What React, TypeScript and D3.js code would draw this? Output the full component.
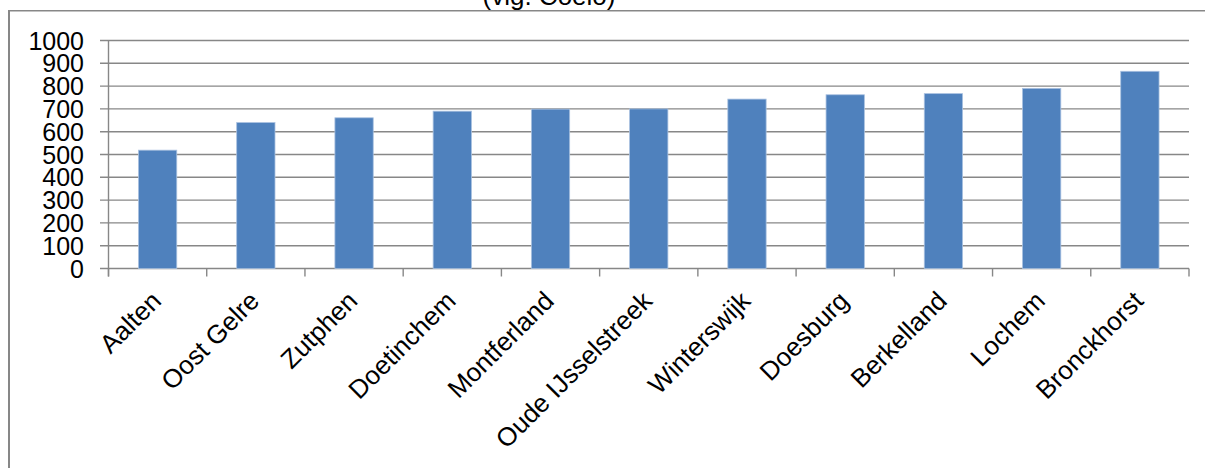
import React from "react";
import * as d3 from "d3";

const categories = [
  "Aalten",
  "Oost Gelre",
  "Zutphen",
  "Doetinchem",
  "Montferland",
  "Oude IJsselstreek",
  "Winterswijk",
  "Doesburg",
  "Berkelland",
  "Lochem",
  "Bronckhorst",
];
const values = [519, 640, 661, 690, 699, 700, 743, 762, 767, 790, 865];
const yTicks = [0, 100, 200, 300, 400, 500, 600, 700, 800, 900, 1000];
const title = "(vlg. Coelo)";

const W = 1205;
const H = 468;
const FONT = "'Liberation Sans', Arial, sans-serif";
const GRID = "#878787";

export default function App() {
  const left = 108.5;
  const right = 1189;
  const y = d3.scaleLinear().domain([0, 1000]).range([268.5, 40.5]);
  const x = d3
    .scaleBand<string>()
    .domain(categories)
    .range([left, right])
    .paddingInner(0.61)
    .paddingOuter(0.305);
  const step = x.step();
  const y0 = y(0);

  return (
    <svg
      width={W}
      height={H}
      style={{ position: "absolute", left: 0, top: 0, background: "#fff" }}
      fontFamily={FONT}
    >
      <rect x={0} y={0} width={W} height={H} fill="#fff" />
      {/* outer frame */}
      <line x1={9} x2={W + 2} y1={10.8} y2={10.8} stroke={GRID} strokeWidth={1.4} />
      <line x1={9} x2={9} y1={10} y2={H + 2} stroke={GRID} strokeWidth={2} />
      <text x={549} y={5} fontSize={26} textAnchor="middle" fill="#000">
        {title}
      </text>

      {/* gridlines */}
      {yTicks.map((t) => (
        <line
          key={t}
          x1={100}
          x2={right}
          y1={y(t)}
          y2={y(t)}
          stroke={GRID}
          strokeWidth={1.4}
        />
      ))}
      {/* y axis */}
      <line x1={left} x2={left} y1={y(1000)} y2={y0 + 8} stroke={GRID} strokeWidth={1.4} />
      {/* x ticks */}
      {categories.map((c, i) => (
        <line
          key={"t" + c}
          x1={left + i * step}
          x2={left + i * step}
          y1={y0}
          y2={y0 + 8}
          stroke={GRID}
          strokeWidth={1.4}
        />
      ))}
      <line x1={right} x2={right} y1={y0} y2={y0 + 8} stroke={GRID} strokeWidth={1.4} />

      {/* bars */}
      {categories.map((c, i) => (
        <rect
          key={"b" + c}
          x={x(c)}
          y={y(values[i])}
          width={x.bandwidth()}
          height={y0 - y(values[i])}
          fill="#4f81bd"
          stroke="#a9c1e0"
          strokeWidth={0.8}
        />
      ))}

      {/* y tick labels */}
      {yTicks.map((t) => (
        <text
          key={"l" + t}
          x={84}
          y={y(t)}
          dy="0.36em"
          fontSize={25}
          textAnchor="end"
          fill="#000"
        >
          {t}
        </text>
      ))}

      {/* x labels */}
      {categories.map((c) => {
        const cx = (x(c) as number) + x.bandwidth() / 2;
        return (
          <text
            key={"x" + c}
            transform={`translate(${cx + 5},${y0 + 34}) rotate(-45)`}
            fontSize={26}
            textAnchor="end"
            fill="#000"
          >
            {c}
          </text>
        );
      })}
    </svg>
  );
}
